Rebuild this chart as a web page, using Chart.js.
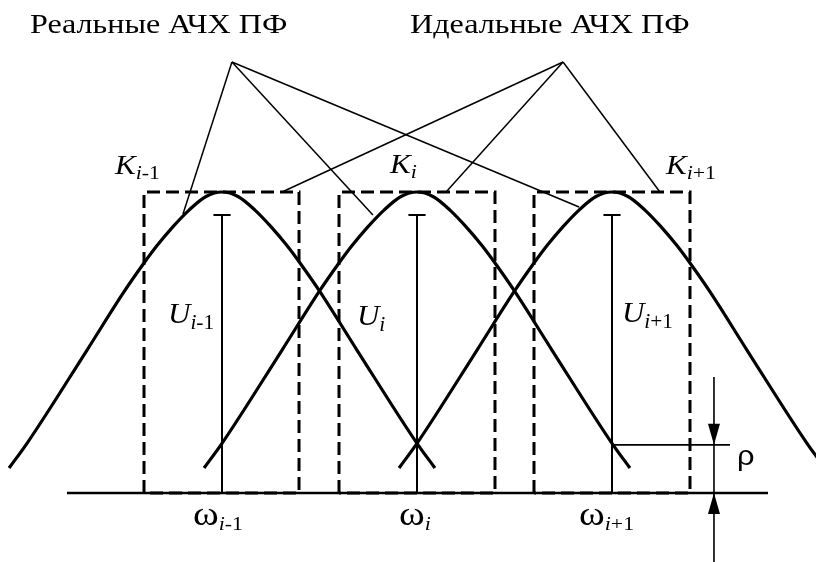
<!DOCTYPE html>
<html>
<head>
<meta charset="utf-8">
<script src="https://cdn.jsdelivr.net/npm/chart.js@4/dist/chart.umd.min.js"></script>
<style>
    html, body { margin: 0; padding: 0; background: #fff; }
    #chart { display: block; }
</style>
</head>
<body>
<canvas id="chart" width="816" height="562"></canvas>
<script>
// Frequency axis: omega_i = 0, channel spacing = 1; level: baseline = 0, K = 1
const omegaCenters = [-1, 0, 1];
const omegaSubs = ['i-1', 'i', 'i+1'];

const profileOffset = [-1.092, -1.0, -0.692, -0.503, -0.4, -0.333, -0.251, -0.169, -0.082, 0,
                       0.082, 0.169, 0.251, 0.333, 0.4, 0.503, 0.692, 1.0, 1.092];
const profileLevel  = [0.083, 0.165, 0.475, 0.668, 0.764, 0.822, 0.885, 0.94, 0.985, 1.0,
                       0.985, 0.94, 0.885, 0.822, 0.764, 0.668, 0.475, 0.165, 0.083];

// Ideal (rectangular) responses: pass band edges and height
const idealLeft  = [-1.4, -0.4, 0.6];
const idealRight = [-0.605, 0.4, 1.4];
const idealLevel = 1.0;

// Output voltages U (bar heights)
const uLevel = [0.924, 0.924, 0.924];

// Frequency axis line and threshold rho
const axisFrom = -1.795;
const axisTo = 1.8;
const rhoLevel = 0.16;
const rhoLineTo = 1.605;
const rhoArrowX = 1.523;

// Leader lines from the two captions
const realApex = [-0.949, 1.432];
const realTargets = [[-1.2, 0.927], [-0.226, 0.924], [0.831, 0.95]];
const idealApex = [0.749, 1.432];
const idealTargets = [[-0.692, 1.0], [0.149, 1.0], [1.246, 1.0]];

const datasets = [];

// Real responses
omegaCenters.forEach(c => {
    datasets.push({
        data: profileOffset.map((d, k) => ({ x: c + d, y: profileLevel[k] })),
        borderColor: '#000', borderWidth: 3.2, pointRadius: 0,
        showLine: true, cubicInterpolationMode: 'monotone'
    });
});

// Ideal responses (dashed rectangles)
idealLeft.forEach((l, k) => {
    const r = idealRight[k];
    datasets.push({
        data: [{ x: l, y: 0 }, { x: l, y: idealLevel }, { x: r, y: idealLevel }, { x: r, y: 0 }, { x: l, y: 0 }],
        borderColor: '#000', borderWidth: 3, borderDash: [13, 6], pointRadius: 0,
        showLine: true, tension: 0
    });
});

// U bars with a small cap
omegaCenters.forEach((c, k) => {
    datasets.push({
        data: [{ x: c, y: 0 }, { x: c, y: uLevel[k] }, { x: c - 0.044, y: uLevel[k] }, { x: c + 0.044, y: uLevel[k] }],
        borderColor: '#000', borderWidth: 2, pointRadius: 0, showLine: true, tension: 0
    });
});

// Frequency axis
datasets.push({
    data: [{ x: axisFrom, y: 0 }, { x: axisTo, y: 0 }],
    borderColor: '#000', borderWidth: 2.6, pointRadius: 0, showLine: true
});

// Rho level line and its measuring line
datasets.push({
    data: [{ x: omegaCenters[2], y: rhoLevel }, { x: rhoLineTo, y: rhoLevel }],
    borderColor: '#000', borderWidth: 1.6, pointRadius: 0, showLine: true
});
datasets.push({
    data: [{ x: rhoArrowX, y: 0.385 }, { x: rhoArrowX, y: -0.25 }],
    borderColor: '#000', borderWidth: 1.6, pointRadius: 0, showLine: true
});

// Leader lines
[[realApex, realTargets], [idealApex, idealTargets]].forEach(([apex, targets]) => {
    targets.forEach(t => {
        datasets.push({
            data: [{ x: apex[0], y: apex[1] }, { x: t[0], y: t[1] }],
            borderColor: '#000', borderWidth: 1.5, pointRadius: 0, showLine: true
        });
    });
});

// Text annotations (positions in chart units)
const captions = [
    { text: 'Реальные АЧХ ПФ', x: -1.985, y: 1.528 },
    { text: 'Идеальные АЧХ ПФ', x: -0.036, y: 1.528 }
];
const kLabels = [{ x: -1.549, y: 1.06 }, { x: -0.138, y: 1.063 }, { x: 1.277, y: 1.06 }];
const uLabels = [{ x: -1.277, y: 0.565 }, { x: -0.308, y: 0.558 }, { x: 1.051, y: 0.568 }];
const wLabels = [{ x: -1.149, y: -0.106 }, { x: -0.092, y: -0.106 }, { x: 0.831, y: -0.106 }];

// the scanned lettering is a bit wider than Liberation Serif
function stretched(ctx, px, py, sx, draw) {
    ctx.save();
    ctx.translate(px, py);
    ctx.scale(sx, 1);
    draw();
    ctx.restore();
}

function drawSubscripted(ctx, px, py, sx, main, mainFont, sub, subSize, shift) {
    stretched(ctx, px, py, sx, () => {
        ctx.font = mainFont;
        ctx.fillText(main, 0, 0);
        let cx = ctx.measureText(main).width;
        // italic index letter, upright digits and signs
        sub.match(/[a-z]+|[^a-z]+/g).forEach(p => {
            ctx.font = (/[a-z]/.test(p) ? 'italic ' : '') + subSize + 'px "Liberation Serif"';
            ctx.fillText(p, cx, shift);
            cx += ctx.measureText(p).width;
        });
    });
}

function arrowHead(ctx, x, tipY, dir) {
    // dir = 1 points down, -1 points up
    ctx.beginPath();
    ctx.moveTo(x, tipY);
    ctx.lineTo(x - 6, tipY - dir * 21);
    ctx.lineTo(x + 6, tipY - dir * 21);
    ctx.closePath();
    ctx.fill();
}

const annotations = {
    id: 'annotations',
    afterDatasetsDraw(chart) {
        const ctx = chart.ctx;
        const X = v => chart.scales.x.getPixelForValue(v);
        const Y = v => chart.scales.y.getPixelForValue(v);
        ctx.save();
        ctx.fillStyle = '#000';
        ctx.textBaseline = 'alphabetic';
        ctx.textAlign = 'left';

        captions.forEach(c => stretched(ctx, X(c.x), Y(c.y), 1.19, () => {
            ctx.font = '27px "Liberation Serif"';
            ctx.fillText(c.text, 0, 0);
        }));

        kLabels.forEach((p, k) => drawSubscripted(ctx, X(p.x), Y(p.y), 1.15, 'K', 'italic 27px "Liberation Serif"', omegaSubs[k], 19, 5));
        uLabels.forEach((p, k) => drawSubscripted(ctx, X(p.x), Y(p.y), 1.07, 'U', 'italic 29px "Liberation Serif"', omegaSubs[k], 20, 6));
        wLabels.forEach((p, k) => drawSubscripted(ctx, X(p.x), Y(p.y), 1.15, 'ω', '34px "Liberation Serif"', omegaSubs[k], 19, 5));

        stretched(ctx, X(1.641), Y(0.093), 1.1, () => {
            ctx.font = '28px "Liberation Sans"';
            ctx.fillText('ρ', 0, 0);
        });

        arrowHead(ctx, X(rhoArrowX), Y(rhoLevel), 1);
        arrowHead(ctx, X(rhoArrowX), Y(0), -1);
        ctx.restore();
    }
};

new Chart(document.getElementById('chart'), {
    type: 'scatter',
    data: { datasets },
    options: {
        responsive: false,
        animation: false,
        devicePixelRatio: 1,
        layout: { padding: 0 },
        plugins: { legend: { display: false }, tooltip: { enabled: false } },
        scales: {
            x: { type: 'linear', min: -2.1385, max: 2.0462, display: false },
            y: { type: 'linear', min: -0.2292, max: 1.6379, display: false }
        }
    },
    plugins: [annotations]
});
</script>
</body>
</html>
